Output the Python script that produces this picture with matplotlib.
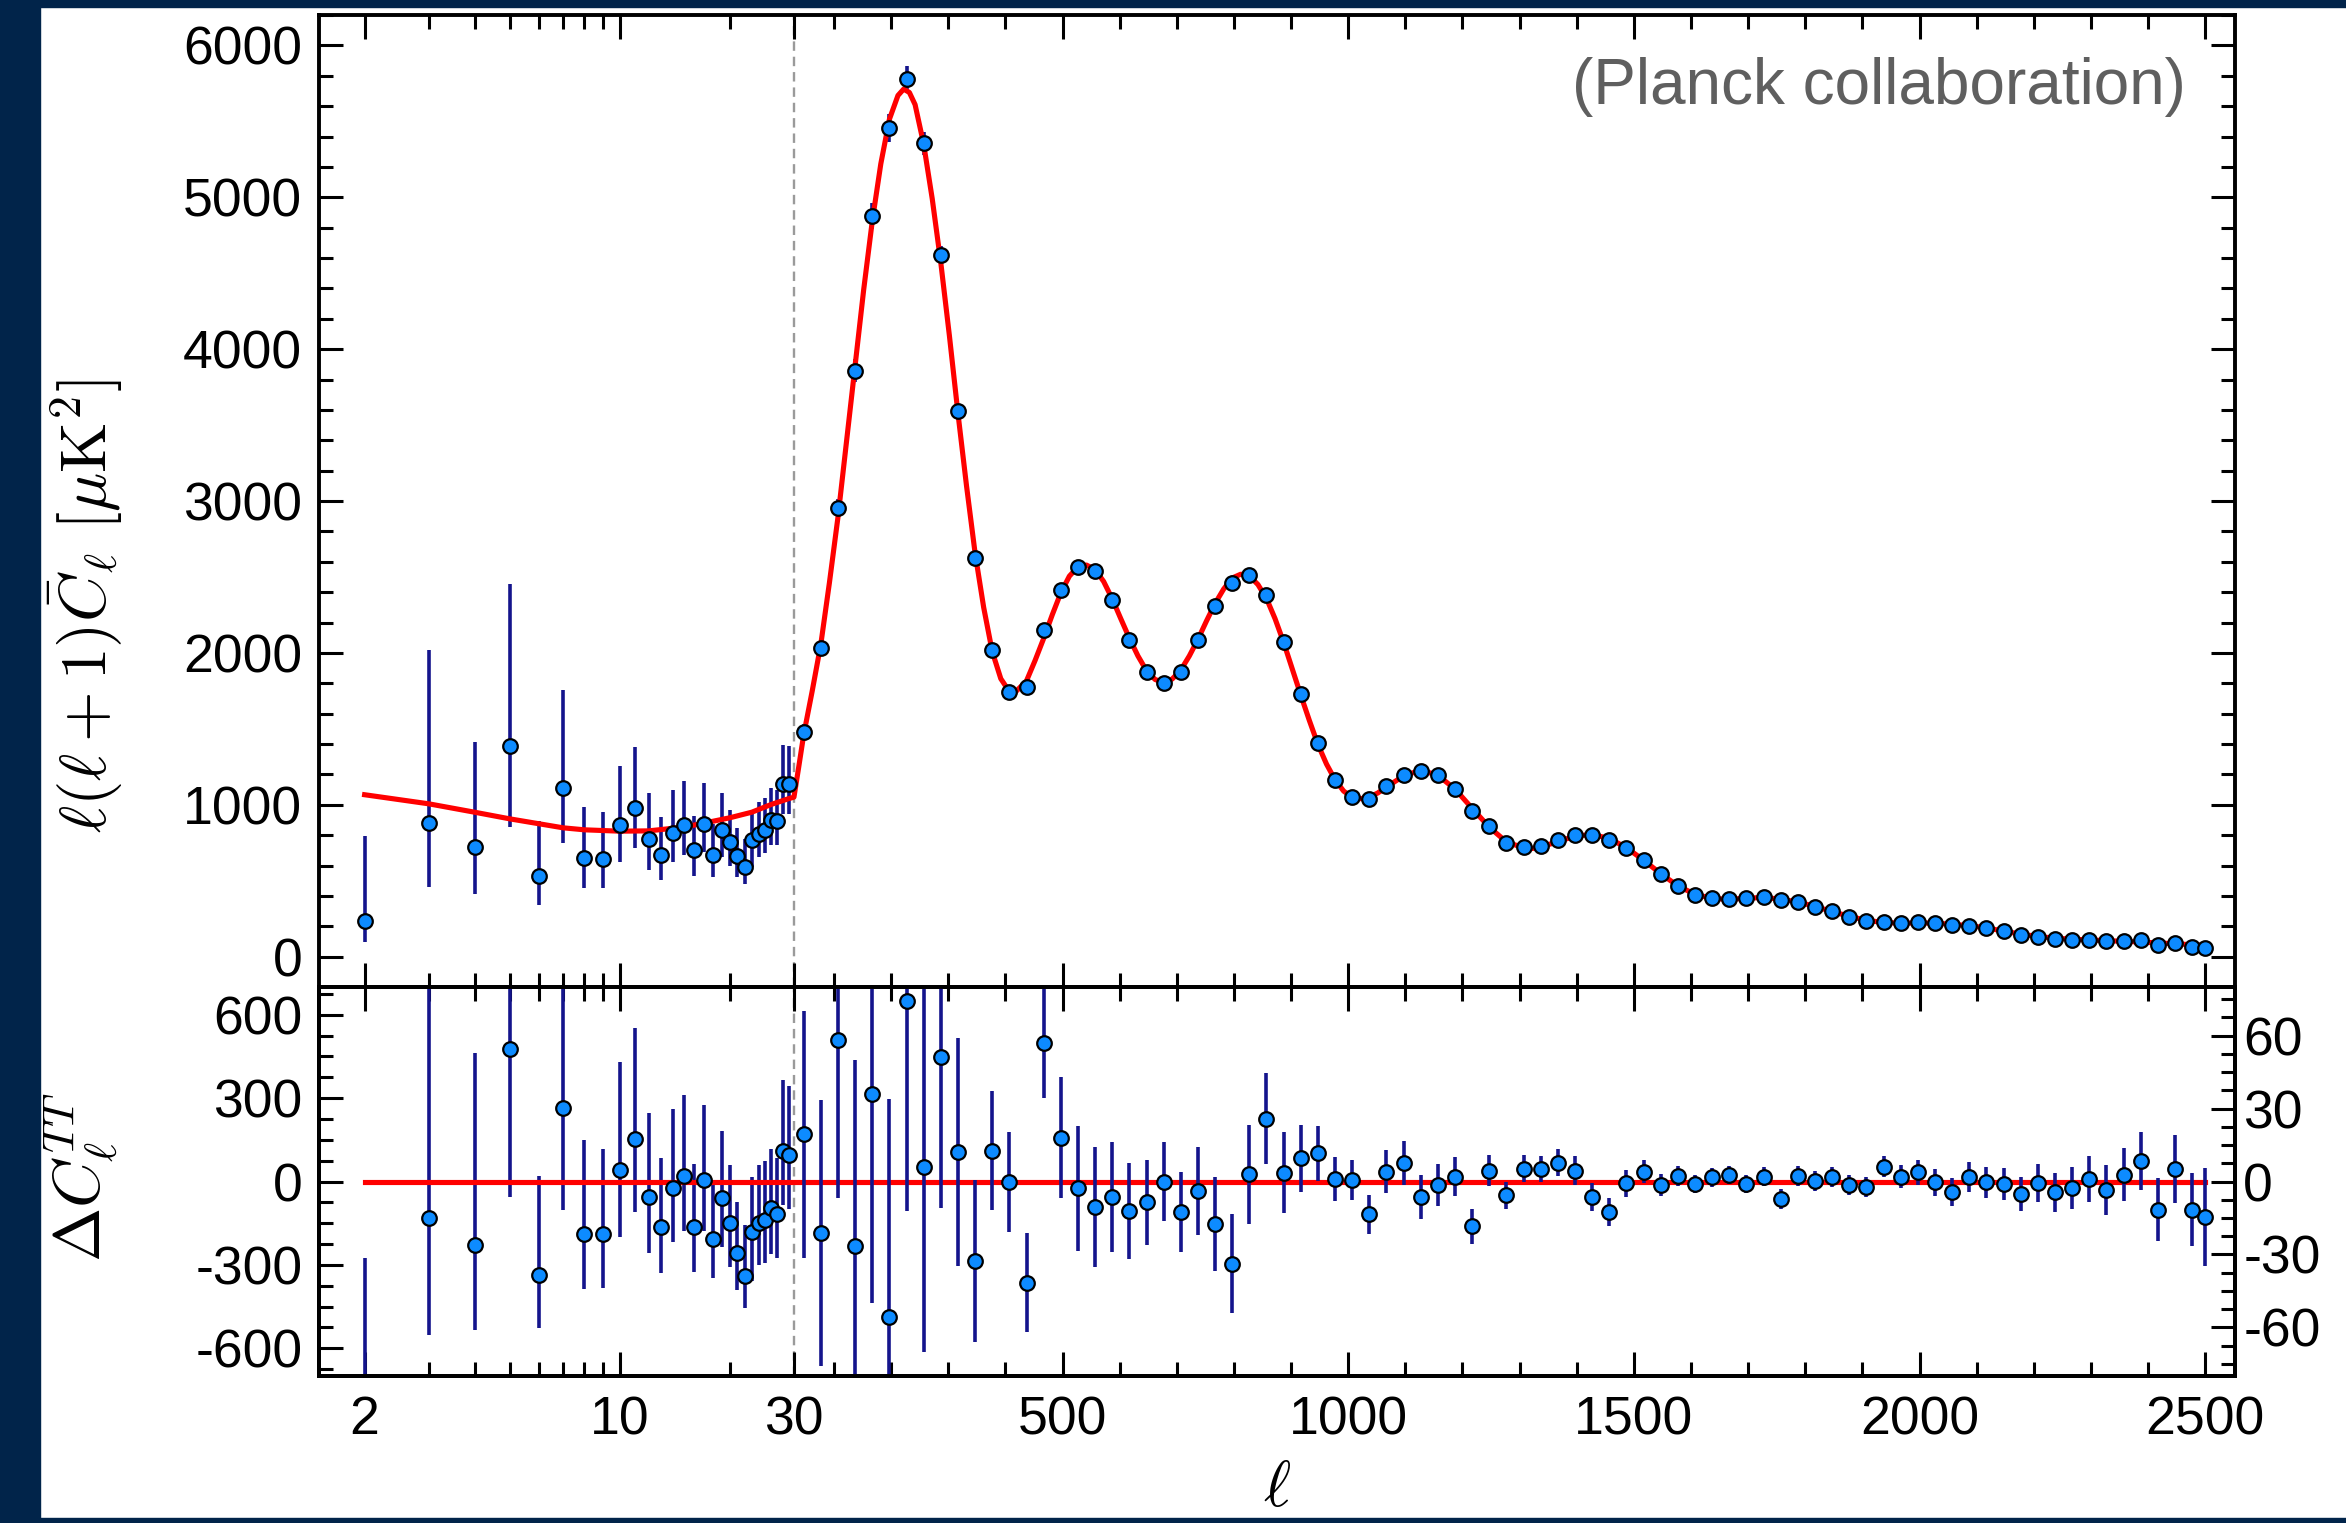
import numpy as np
import matplotlib
matplotlib.use('Agg')
import matplotlib.pyplot as plt
from matplotlib.ticker import FixedLocator, MultipleLocator, FuncFormatter
from matplotlib.patches import Rectangle

plt.rcParams['font.family'] = ['Liberation Sans', 'DejaVu Sans']
plt.rcParams['mathtext.fontset'] = 'cm'
plt.rcParams['axes.unicode_minus'] = False

# ---------------- data ----------------
ELL_SPLIT = 30

# low-ell (individual multipoles)
ell_lo = [2, 3, 4, 5, 6, 7, 8, 9, 10, 11, 12, 13, 14, 15, 16, 17, 18, 19, 20,
          21, 22, 23, 24, 25, 26, 27, 28, 29]
dl_lo = [233, 879, 720, 1384, 534, 1112, 648, 644, 864, 978, 776, 670, 815, 868,
         699, 870, 670, 835, 756, 661, 589, 765, 809, 837, 897, 890, 1134, 1134]
err_lo_minus = [139, 422, 307, 532, 191, 365, 198, 194, 242, 262, 205, 165, 193,
                198, 165, 182, 143, 176, 156, 134, 114, 176, 150, 156, 165, 158,
                194, 194]
err_lo_plus = [558, 1143, 693, 1071, 356, 646, 336, 305, 388, 402, 301, 248, 284,
               290, 224, 273, 205, 242, 211, 183, 184, 197, 211, 209, 213, 204,
               257, 250]
resid_lo = [-833, -130, -229, 478, -337, 264, -188, -188, 42, 152, -54, -163, -24,
            20, -162, 4, -206, -60, -151, -257, -340, -181, -150, -137, -97, -118,
            110, 94]

# high-ell (binned)
ell_hi = [47, 77, 107, 137, 167, 197, 227, 257, 287, 317, 347, 377, 407, 437, 467,
          497, 527, 557, 587, 617, 647, 677, 707, 737, 767, 797, 827, 857, 887,
          917, 947, 977, 1007, 1037, 1067, 1097, 1127, 1157, 1187, 1217, 1247,
          1277, 1307, 1337, 1367, 1397, 1427, 1457, 1487, 1517, 1547, 1577, 1607,
          1637, 1667, 1697, 1727, 1757, 1787, 1817, 1847, 1877, 1907, 1937, 1967,
          1997, 2027, 2057, 2087, 2117, 2147, 2177, 2207, 2237, 2267, 2297, 2327,
          2357, 2387, 2417, 2447, 2477, 2500]
dl_hi = [1480, 2035, 2951, 3859, 4877, 5457, 5776, 5356, 4620, 3590, 2624, 2022,
         1745, 1774, 2152, 2413, 2564, 2539, 2350, 2085, 1875, 1804, 1875, 2085,
         2308, 2459, 2510, 2384, 2073, 1732, 1409, 1165, 1050, 1037, 1121, 1198,
         1222, 1193, 1105, 958, 857, 749, 721, 727, 765, 798, 798, 765, 716, 639,
         545, 468, 409, 385, 380, 385, 391, 374, 362, 330, 299, 264, 237, 231, 222,
         226, 222, 211, 204, 189, 167, 143, 132, 117, 112, 112, 101, 105, 110, 77,
         88, 66, 57]
sigma_hi = [50.8, 54.7, 64.8, 76.4, 85.9, 90, 86.6, 76.3, 62.1, 46.9,
            33.5, 24.4, 20.6, 20.4, 22.5, 24.8, 25.7, 24.8, 22.7, 19.7,
            17.5, 16.3, 16.6, 18, 19.4, 20.3, 20.4, 18.8, 16.6, 13.7,
            11.2, 9.1, 8.3, 8, 8.7, 9.1, 9, 8.6, 8, 7.2,
            6.3, 5.6, 5.4, 5.3, 5.6, 5.9, 5.9, 5.8, 5.5, 4.8,
            4.6, 4, 3.8, 3.9, 3.7, 3.8, 4, 4.1, 4, 4.1,
            4.2, 4.1, 4.2, 4.4, 4.6, 5.2, 5.6, 5.8, 6.2, 6.4,
            6.6, 7, 7.7, 8.1, 8.8, 9.4, 10.2, 10.9, 12, 12.9,
            13.9, 15, 20.2]
resid_hi = [19.5, -21.1, 58, -26.6, 36.1, -55.9, 74.3, 6.1, 51.2, 12.3,
            -32.7, 12.7, -0.1, -41.6, 56.9, 18, -2.7, -10.5, -6.5, -12,
            -8.5, 0, -12.5, -3.8, -17.5, -33.8, 3, 25.9, 3.7, 9.5,
            11.6, 1.1, 0.7, -13.4, 4.1, 7.5, -6.5, -1.4, 2, -18.4,
            4.5, -5.7, 5.3, 5, 7.8, 4.4, -6.4, -12.7, -0.7, 4.1,
            -1.4, 2.3, -1.1, 1.8, 2.7, -1.1, 2, -7.2, 2.3, 0.3,
            1.8, -1.4, -2.3, 6.1, 2, 3.8, -0.4, -4.4, 2, -0.4,
            -1.1, -5.2, -0.7, -4.4, -2.7, 1.1, -3.4, 2.7, 8.5, -11.6,
            5.2, -11.6, -14.6]

# best-fit model curve
ell_model = [2, 3, 4, 5, 6, 7, 8, 10, 12, 15, 17, 20, 23, 26, 29, 30,
             38, 47, 62, 77, 92, 107, 122, 137, 152, 167, 182, 197, 212, 222,
             232, 242, 257, 272, 287, 302, 317, 332, 347, 362, 377, 392, 407,
             417, 437, 452, 467, 482, 497, 512, 527, 542, 557, 572, 587, 602,
             617, 632, 647, 662, 677, 692, 707, 722, 737, 752, 767, 782, 797,
             812, 827, 842, 857, 872, 887, 902, 917, 932, 947, 962, 977, 992,
             1007, 1022, 1037, 1052, 1067, 1097, 1127, 1157, 1187, 1217, 1247,
             1277, 1307, 1322, 1337, 1367, 1397, 1427, 1457, 1487, 1517, 1547,
             1577, 1607, 1637, 1667, 1697, 1727, 1757, 1787, 1817, 1847, 1877,
             1907, 1937, 1967, 1997, 2027, 2057, 2087, 2117, 2147, 2177, 2207,
             2237, 2267, 2297, 2327, 2357, 2387, 2417, 2447, 2477, 2500]
dl_model = [1066, 1006, 951, 907, 875, 848, 835, 826, 828, 853, 879, 914, 951,
            1002, 1040, 1050,
            1240, 1460, 1750, 2056, 2460, 2893, 3390, 3886, 4390, 4841, 5220,
            5513, 5670, 5712, 5690, 5610, 5350, 4990, 4569, 4090, 3578, 3100,
            2657, 2300, 2009, 1830, 1745, 1740, 1816, 1950, 2095, 2250, 2395,
            2505, 2567, 2578, 2549, 2470, 2356, 2225, 2097, 1980, 1883, 1825,
            1804, 1828, 1887, 1980, 2089, 2210, 2325, 2420, 2493, 2518, 2507,
            2450, 2358, 2225, 2069, 1895, 1722, 1555, 1397, 1268, 1164, 1090,
            1049, 1040, 1050, 1078, 1117, 1190, 1228, 1194, 1103, 976, 852,
            755, 716, 712, 722, 757, 794, 804, 778, 717, 635, 546, 466, 410,
            383, 377, 385, 389, 378, 360, 330, 297, 265, 239, 225, 220, 222,
            220, 213, 204, 189, 168, 148, 133, 121, 115, 110, 105, 101, 96, 90,
            84, 78, 74]

x_major = [2, 10, 30, 500, 1000, 1500, 2000, 2500]
x_minor = [3, 4, 5, 6, 7, 8, 9, 20, 100, 200, 300, 400, 600, 700, 800, 900,
           1100, 1200, 1300, 1400, 1600, 1700, 1800, 1900, 2100, 2200, 2300, 2400]
top_yticks = [0, 1000, 2000, 3000, 4000, 5000, 6000]
lo_res_ticks = [-600, -300, 0, 300, 600]
hi_res_ticks = [-60, -30, 0, 30, 60]

# ---------------- styling ----------------
NAVY_BG = '#01244a'
ERR_C = '#14148c'
PT_C = '#0d8bff'
MS = 10.5
MEW = 1.6
ELW = 2.6
RED_LW = 3.7
FS = 38.5
SPW = 2.8
TKW = 2.2

# hybrid log/linear x-axis
K = 638.9
L30 = np.log10(ELL_SPLIT)


def fwd(x):
    x = np.asarray(x, dtype=float)
    with np.errstate(divide='ignore', invalid='ignore'):
        lg = ELL_SPLIT + (np.log10(np.where(x > 0, x, 1e-300)) - L30) * K
    return np.where(x < ELL_SPLIT, lg, x)


def inv(y):
    y = np.asarray(y, dtype=float)
    ex = 10 ** ((np.minimum(y, ELL_SPLIT) - ELL_SPLIT) / K + L30)
    return np.where(y < ELL_SPLIT, ex, y)


W, H = 2346, 1523
fig = plt.figure(figsize=(W / 100, H / 100), dpi=100)
fig.patch.set_facecolor('white')

left, right = 319 / W, 2235 / W
ax_t = fig.add_axes([left, 1 - 987 / H, right - left, (987 - 15) / H])
ax_b = fig.add_axes([left, 1 - 1376 / H, right - left, (1376 - 987) / H])

for ax in (ax_t, ax_b):
    ax.set_xscale('function', functions=(fwd, inv))
    ax.set_xlim(1.5, 2552)
    ax.xaxis.set_major_locator(FixedLocator(x_major))
    ax.xaxis.set_minor_locator(FixedLocator(x_minor))
    ax.xaxis.set_major_formatter(FuncFormatter(lambda v, p: f'{v:g}'))
    for s in ax.spines.values():
        s.set_linewidth(SPW)
    ax.tick_params(which='major', direction='in', length=17, width=TKW,
                   top=True, bottom=True, labelsize=FS)
    ax.tick_params(which='minor', direction='in', length=10, width=TKW,
                   top=True, bottom=True)
    ax.axvline(ELL_SPLIT, color='#9a9a9a', lw=1.7, ls=(0, (4, 2.5)), zorder=1)

# ---- top panel ----
ax_t.errorbar(ell_lo, dl_lo, yerr=[err_lo_minus, err_lo_plus], fmt='none',
              ecolor=ERR_C, elinewidth=ELW, capsize=0, zorder=2)
ax_t.errorbar(ell_hi, dl_hi, yerr=sigma_hi, fmt='none',
              ecolor=ERR_C, elinewidth=ELW, capsize=0, zorder=2)
ax_t.plot(ell_model, dl_model, color='red', lw=RED_LW, zorder=3)
ax_t.plot(ell_lo, dl_lo, 'o', ms=MS, mfc=PT_C, mec='black', mew=MEW, zorder=4)
ax_t.plot(ell_hi, dl_hi, 'o', ms=MS, mfc=PT_C, mec='black', mew=MEW, zorder=4)
ax_t.set_ylim(-200, 6200)
ax_t.yaxis.set_major_locator(FixedLocator(top_yticks))
ax_t.yaxis.set_minor_locator(MultipleLocator(200))
ax_t.tick_params(axis='y', which='both', left=True, right=True)
ax_t.tick_params(axis='y', which='major', pad=12)
ax_t.tick_params(axis='x', which='both', labelbottom=False)

# ---- bottom panel ----
ax_b.plot([ell_lo[0], ell_hi[-1]], [0, 0], color='red', lw=RED_LW, zorder=3)
ax_b.errorbar(ell_lo, resid_lo, yerr=[err_lo_minus, err_lo_plus], fmt='none',
              ecolor=ERR_C, elinewidth=ELW, capsize=0, zorder=2)
ax_b.plot(ell_lo, resid_lo, 'o', ms=MS, mfc=PT_C, mec='black', mew=MEW, zorder=4)
ax_b.set_ylim(-700, 700)
ax_b.yaxis.set_major_locator(FixedLocator(lo_res_ticks))
ax_b.yaxis.set_minor_locator(MultipleLocator(75))
ax_b.tick_params(axis='y', which='both', left=True, right=False)
ax_b.tick_params(axis='y', which='major', pad=12)
ax_b.tick_params(axis='x', which='major', pad=14)

ax_r = ax_b.twinx()
ax_r.errorbar(ell_hi, resid_hi, yerr=sigma_hi, fmt='none',
              ecolor=ERR_C, elinewidth=ELW, capsize=0, zorder=2)
ax_r.plot(ell_hi, resid_hi, 'o', ms=MS, mfc=PT_C, mec='black', mew=MEW, zorder=4)
ax_r.set_ylim(-80, 80)
ax_r.yaxis.set_major_locator(FixedLocator(hi_res_ticks))
ax_r.yaxis.set_minor_locator(MultipleLocator(7.5))
for s in ax_r.spines.values():
    s.set_linewidth(SPW)
ax_r.tick_params(axis='y', which='major', direction='in', length=17, width=TKW,
                 labelsize=FS, pad=6)
ax_r.tick_params(axis='y', which='minor', direction='in', length=10, width=TKW)

# ---- labels ----
fig.text(86 / W, 1 - 606 / H, r'$\ell(\ell+1)\bar{C}_\ell\ [\mu\mathrm{K}^2]$',
         rotation=90, ha='center', va='center', fontsize=47)
fig.text(81 / W, 1 - 1177 / H, r'$\Delta C_\ell^{TT}$',
         rotation=90, ha='center', va='center', fontsize=47)
fig.text(1277 / W, 1 - 1489 / H, r'$\ell$', ha='center', va='center', fontsize=47)
fig.text(2186 / W, 1 - 87 / H, '(Planck collaboration)', ha='right', va='center',
         fontsize=46, color='#5f5f5f')

# ---- dark frame strips ----
fig.add_artist(Rectangle((0, 0), 40 / W, 1, transform=fig.transFigure,
                         color=NAVY_BG, zorder=0))
fig.add_artist(Rectangle((0, 1 - 7 / H), 1, 7 / H, transform=fig.transFigure,
                         color=NAVY_BG, zorder=0))
fig.add_artist(Rectangle((0, 0), 1, 5 / H, transform=fig.transFigure,
                         color=NAVY_BG, zorder=0))

fig.savefig('out.png', dpi=100, facecolor='white')
